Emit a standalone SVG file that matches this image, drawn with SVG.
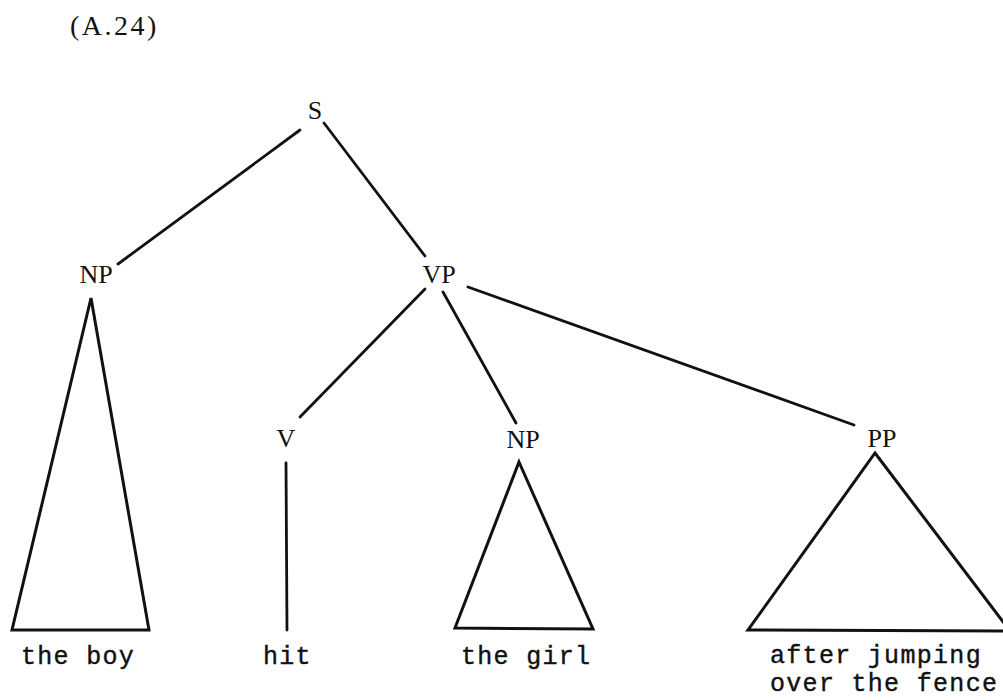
<svg xmlns="http://www.w3.org/2000/svg" width="1003" height="700" viewBox="0 0 1003 700">
<style>
.lbl{font-family:"Liberation Serif","DejaVu Serif",serif;font-size:26px;fill:#111;text-anchor:middle}
.ttl{font-family:"Liberation Serif","DejaVu Serif",serif;font-size:28px;fill:#111;letter-spacing:2.5px}
.leaf{font-family:"Liberation Mono","DejaVu Sans Mono",monospace;font-size:25px;fill:#111;letter-spacing:1.3px;stroke:#111;stroke-width:0.4}
.edge{stroke:#111;stroke-width:2.8;fill:none;stroke-linecap:round}
.tri{stroke:#111;stroke-width:3;fill:none;stroke-linejoin:miter}
</style>
<rect width="1003" height="700" fill="#fff"/>
<text class="ttl" x="70" y="35">(A.24)</text>
<g id="connectors">
<line class="edge" x1="300" y1="130" x2="118" y2="264"/>
<line class="edge" x1="324" y1="123" x2="425" y2="256"/>
<line class="edge" x1="425" y1="289" x2="300" y2="417"/>
<line class="edge" x1="443" y1="292" x2="516" y2="423"/>
<line class="edge" x1="468" y1="287" x2="854" y2="425"/>
</g>
<g id="node-S"><text class="lbl" x="315" y="119">S</text></g>
<g id="node-NP1"><text class="lbl" x="96" y="283">NP</text>
<polygon class="tri" points="91,298 149,630 12,630"/></g>
<g id="node-VP"><text class="lbl" x="439" y="283">VP</text></g>
<g id="node-V"><text class="lbl" x="286" y="447">V</text>
<line class="edge" x1="286" y1="463" x2="287" y2="630"/></g>
<g id="node-NP2"><text class="lbl" x="523" y="448">NP</text>
<polygon class="tri" points="519,462 593,629 455,628"/></g>
<g id="node-PP"><text class="lbl" x="882" y="447">PP</text>
<polygon class="tri" points="875,453 1010,631 748,630"/></g>
<g id="leaves">
<text class="leaf" x="21" y="664">the boy</text>
<text class="leaf" x="263" y="664">hit</text>
<text class="leaf" x="461" y="664">the girl</text>
<text class="leaf" x="770" y="663">after jumping</text>
<text class="leaf" x="770" y="691">over the fence</text>
</g>
</svg>
